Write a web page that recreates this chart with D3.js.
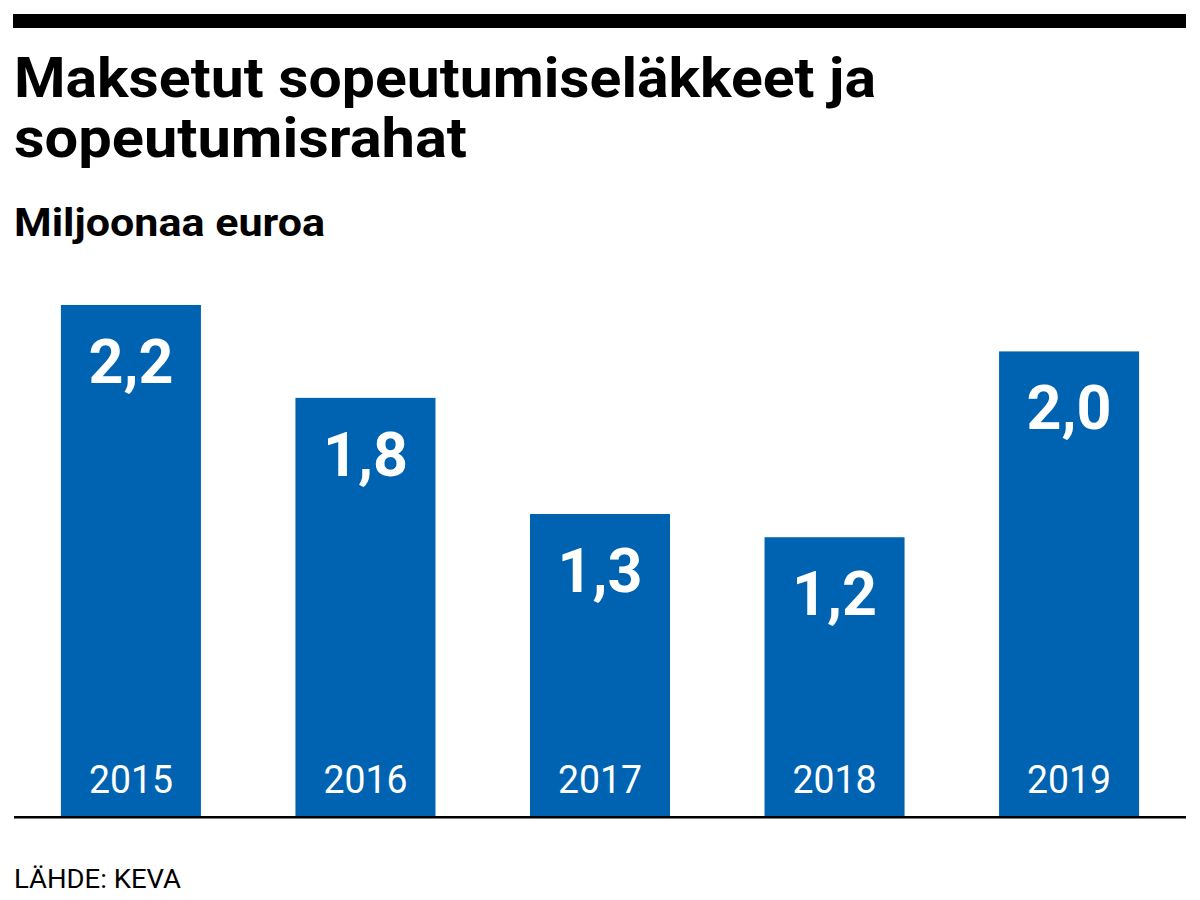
<!DOCTYPE html>
<html>
<head>
<meta charset="utf-8">
<script src="https://cdn.jsdelivr.net/npm/d3@7"></script>
<style>
  html, body { margin: 0; padding: 0; background: #fff; }
  svg { display: block; }
</style>
</head>
<body>
<svg id="chart" width="1200" height="900"></svg>
<script>
const years = ["2015", "2016", "2017", "2018", "2019"];
const values = [2.2, 1.8, 1.3, 1.2, 2.0];
const valueLabels = ["2,2", "1,8", "1,3", "1,2", "2,0"];
const titleLines = ["Maksetut sopeutumiseläkkeet ja", "sopeutumisrahat"];
const subtitle = "Miljoonaa euroa";
const source = "LÄHDE: KEVA";

const svg = d3.select("#chart");
const font = "Roboto, 'Open Sans', sans-serif";
const blue = "#0063b1";

// top rule
svg.append("rect").attr("x", 13).attr("y", 14).attr("width", 1173).attr("height", 14).attr("fill", "#000");

// title
const titleWidths = [862, 453];
titleLines.forEach((t, i) => {
  svg.append("text")
    .attr("x", 14).attr("y", 97 + i * 60)
    .attr("font-family", font).attr("font-weight", 700).attr("font-size", 56)
    .attr("textLength", titleWidths[i]).attr("lengthAdjust", "spacingAndGlyphs")
    .attr("fill", "#000").text(t);
});

svg.append("text")
  .attr("x", 14).attr("y", 236)
  .attr("font-family", font).attr("font-weight", 700).attr("font-size", 39)
  .attr("textLength", 311).attr("lengthAdjust", "spacingAndGlyphs")
  .attr("fill", "#000").text(subtitle);

// scales
const baseY = 816;
const x = d3.scaleBand().domain(years).range([14, 1186]).paddingInner(0.403).paddingOuter(0.2);
const y = d3.scaleLinear().domain([0, 1]).range([baseY, baseY - 232.3]);

const data = years.map((yr, i) => ({ year: yr, value: values[i], label: valueLabels[i] }));

const g = svg.append("g");
g.selectAll("rect.bar").data(data).join("rect")
  .attr("class", "bar")
  .attr("x", d => x(d.year))
  .attr("y", d => y(d.value))
  .attr("width", x.bandwidth())
  .attr("height", d => baseY - y(d.value))
  .attr("fill", blue);

g.selectAll("text.val").data(data).join("text")
  .attr("class", "val")
  .attr("x", d => x(d.year) + x.bandwidth() / 2)
  .attr("y", d => y(d.value) + 78)
  .attr("text-anchor", "middle")
  .attr("font-family", font).attr("font-weight", 700).attr("font-size", 61)
  .attr("fill", "#fff").text(d => d.label);

g.selectAll("text.year").data(data).join("text")
  .attr("class", "year")
  .attr("x", d => x(d.year) + x.bandwidth() / 2)
  .attr("y", baseY - 23)
  .attr("text-anchor", "middle")
  .attr("font-family", font).attr("font-weight", 400).attr("font-size", 39)
  .attr("textLength", 84).attr("lengthAdjust", "spacingAndGlyphs")
  .attr("fill", "#fff").text(d => d.year);

// baseline
svg.append("line").attr("x1", 14).attr("x2", 1186).attr("y1", baseY + 1.2).attr("y2", baseY + 1.2)
  .attr("stroke", "#000").attr("stroke-width", 2.6);

svg.append("text")
  .attr("x", 14).attr("y", 888)
  .attr("font-family", font).attr("font-weight", 400).attr("font-size", 25)
  .attr("textLength", 167).attr("lengthAdjust", "spacingAndGlyphs")
  .attr("fill", "#000").text(source);
</script>
</body>
</html>
